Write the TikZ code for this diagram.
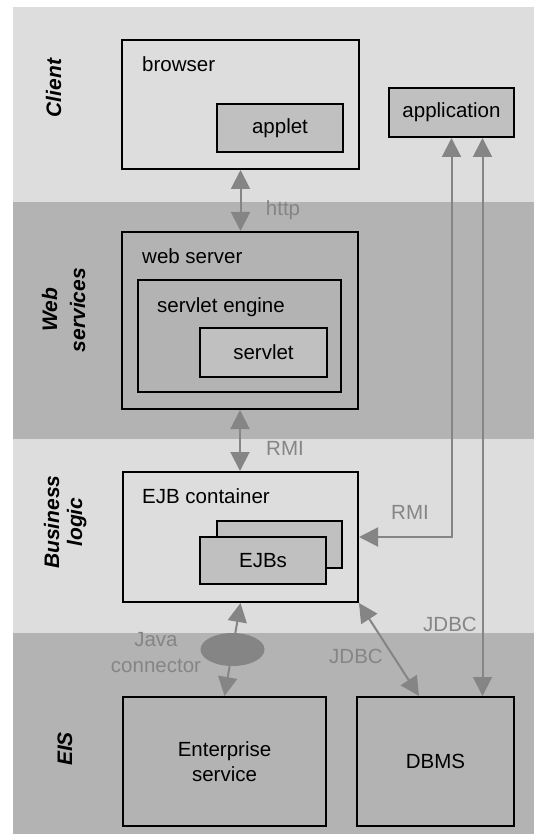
\documentclass[tikz,border=0pt]{standalone}
\usepackage{fontspec}
\setmainfont{Liberation Sans}
\usetikzlibrary{arrows.meta,shapes.geometric,calc}

\definecolor{bandlight}{HTML}{DDDDDD}
\definecolor{banddark}{HTML}{B3B3B3}
\definecolor{compfill}{HTML}{C0C0C0}
\definecolor{wire}{HTML}{858585}

\tikzset{
  txt/.style={font=\fontsize{20.5}{25}\selectfont, inner sep=0pt},
  layer/.style={font=\fontsize{21}{25}\selectfont\bfseries\itshape, inner sep=0pt, rotate=90, anchor=base},
  frame/.style={draw=black, line width=2pt, rectangle, inner sep=0pt, txt},
  comp/.style={frame, fill=compfill},
  wirelabel/.style={txt, text=wire, anchor=base},
  biarrow/.style={draw=wire, line width=2pt,
    arrows={Triangle[length=19pt,width=19pt]-Triangle[length=19pt,width=19pt]}},
}

\begin{document}
\begin{tikzpicture}[x=1pt,y=-1pt]
\useasboundingbox (0,0) rectangle (534,834);

% tier bands
\fill[bandlight] (13,7)   rectangle (534,202);
\fill[banddark]  (13,202) rectangle (534,439);
\fill[bandlight] (13,439) rectangle (534,633);
\fill[banddark]  (13,633) rectangle (534,834);

% tier names
\node[layer] (lclient) at (61,88) {Client};
\node[layer] (lweb1) at (57,310) {Web};
\node[layer] (lweb2) at (85,310) {services};
\node[layer] (lbus1) at (59,522) {Business};
\node[layer] (lbus2) at (82,522) {logic};
\node[layer] (leis) at (72,749) {EIS};

% client tier
\node[frame, minimum width=237, minimum height=129] (browser) at (240.5,104.5) {};
\node[txt, anchor=base west] (browsert) at (142,72) {browser};
\node[comp, minimum width=126, minimum height=48] (applet) at (280,128) {applet};
\node[comp, minimum width=125, minimum height=49] (app) at (451.5,112.5) {application};

% web tier
\node[frame, minimum width=236, minimum height=177] (websrv) at (240,320.5) {};
\node[txt, anchor=base west] (websrvt) at (142,263) {web server};
\node[frame, minimum width=203, minimum height=112] (engine) at (239.5,336) {};
\node[txt, anchor=base west] (enginet) at (157,312) {servlet engine};
\node[comp, minimum width=127, minimum height=49] (servlet) at (263.5,352.5) {servlet};

% business tier
\node[frame, minimum width=235, minimum height=130] (ejb) at (240.5,537) {};
\node[txt, anchor=base west] (ejbt) at (142,503.5) {EJB container};
\node[comp, minimum width=125, minimum height=47] (ejbback) at (279.5,544.5) {};
\node[comp, minimum width=126, minimum height=47] (ejbfront) at (263,560.5) {EJBs};

% EIS tier
\node[frame, minimum width=203, minimum height=129, align=center] (ent) at (224.5,761.5) {Enterprise\\service};
\node[frame, minimum width=157, minimum height=129] (dbms) at (435.5,761.5) {DBMS};

% connectors
\draw[biarrow] (browser.south) -- (browser.south |- websrv.north);
\draw[biarrow] (websrv.south) -- (websrv.south |- ejb.north);
\draw[biarrow] (app.south) |- (ejb.east);
\coordinate (jdbcup) at ([xshift=31pt]app.south);
\draw[biarrow] (jdbcup) -- (jdbcup |- dbms.north);
\coordinate (dbmsin) at ([xshift=-16.5pt]dbms.north);
\draw[biarrow] (ejb.south east) -- (dbmsin);
\draw[biarrow] (ejb.south) -- (ent.north);
\node[ellipse, fill=wire, minimum width=64, minimum height=33, inner sep=0pt] (jconn)
  at ($(ejb.south)!0.5!(ent.north)$) {};

% connector labels
\node[wirelabel] (lhttp) at (283,215.7) {http};
\node[wirelabel] (lrmi1) at (285,455.7) {RMI};
\node[wirelabel] (lrmi2) at (410,519) {RMI};
\node[wirelabel] (ljdbc1) at (450,631.7) {JDBC};
\node[wirelabel] (ljdbc2) at (356,663) {JDBC};
\node[wirelabel] (ljava) at (156,646.5) {Java};
\node[wirelabel] (lconn) at (156,672.5) {connector};
\end{tikzpicture}
\end{document}
